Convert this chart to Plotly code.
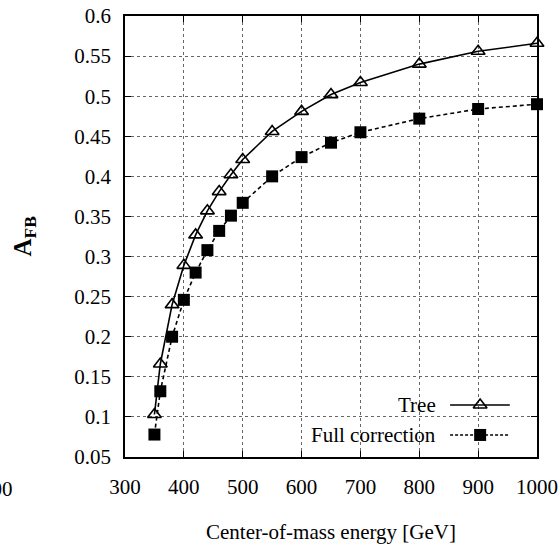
import plotly.graph_objects as go

# Centre-of-mass energies (GeV) and forward-backward asymmetry values
energy = [350, 360, 380, 400, 420, 440, 460, 480, 500, 550, 600, 650, 700, 800, 900, 1000]
afb_tree = [0.103, 0.166, 0.240, 0.289, 0.327, 0.357, 0.381, 0.402, 0.421, 0.456, 0.481,
            0.502, 0.517, 0.540, 0.556, 0.566]
afb_full = [0.078, 0.132, 0.200, 0.246, 0.280, 0.308, 0.332, 0.351, 0.367, 0.400, 0.424,
            0.442, 0.455, 0.472, 0.484, 0.490]

x_ticks = [300, 400, 500, 600, 700, 800, 900, 1000]
y_ticks = [0.05, 0.1, 0.15, 0.2, 0.25, 0.3, 0.35, 0.4, 0.45, 0.5, 0.55, 0.6]
y_tick_text = ["0.05", "0.1", "0.15", "0.2", "0.25", "0.3", "0.35", "0.4", "0.45",
               "0.5", "0.55", "0.6"]

series_names = ["Tree", "Full correction"]

FONT = "Liberation Serif, Times New Roman, serif"
FS = 21

fig = go.Figure()

fig.add_trace(go.Scatter(
    x=energy, y=afb_tree, mode="lines+markers", name=series_names[0],
    line=dict(color="black", width=1.6),
    marker=dict(symbol="triangle-up-open", size=12, color="black",
                line=dict(width=1.6, color="black")),
    showlegend=False, cliponaxis=False,
))
fig.add_trace(go.Scatter(
    x=energy, y=afb_full, mode="lines+markers", name=series_names[1],
    line=dict(color="black", width=1.6, dash="4px,3px"),
    marker=dict(symbol="square", size=12, color="black"),
    showlegend=False, cliponaxis=False,
))

# Key: samples drawn on an overlay axis spanning the plot area as 0..1
key_y = [0.118, 0.050]
key_x0, key_x1, key_xm = 0.789, 0.934, 0.862
fig.add_trace(go.Scatter(
    x=[key_x0, key_x1], y=[key_y[0], key_y[0]], mode="lines",
    line=dict(color="black", width=1.6), xaxis="x2", yaxis="y2",
    showlegend=False, hoverinfo="skip",
))
fig.add_trace(go.Scatter(
    x=[key_xm], y=[key_y[0]], mode="markers",
    marker=dict(symbol="triangle-up-open", size=12, color="black",
                line=dict(width=1.6, color="black")),
    xaxis="x2", yaxis="y2", showlegend=False, hoverinfo="skip",
))
fig.add_trace(go.Scatter(
    x=[key_x0, key_x1], y=[key_y[1], key_y[1]], mode="lines",
    line=dict(color="black", width=1.4, dash="3px,2px"), xaxis="x2", yaxis="y2",
    showlegend=False, hoverinfo="skip",
))
fig.add_trace(go.Scatter(
    x=[key_xm], y=[key_y[1]], mode="markers",
    marker=dict(symbol="square", size=12, color="black"),
    xaxis="x2", yaxis="y2", showlegend=False, hoverinfo="skip",
))

for name, yy in zip(series_names, key_y):
    fig.add_annotation(x=0.757, y=yy, xref="paper", yref="paper", text=name,
                       showarrow=False, xanchor="right", yanchor="middle",
                       borderpad=0,
                       font=dict(family=FONT, size=FS, color="black"))

# white key box over the grid
fig.add_shape(type="rect", xref="paper", yref="paper", x0=0.296, x1=0.966,
              y0=0.0, y1=0.156, fillcolor="white", line=dict(width=0),
              layer="between")

axis_common = dict(
    showline=True, linecolor="black", linewidth=1.5, mirror="ticks",
    ticks="inside", ticklen=6, tickwidth=1, tickcolor="black",
    showgrid=True, gridcolor="#666666", gridwidth=1, griddash="dot",
    zeroline=False, automargin=False,
    tickfont=dict(family=FONT, size=FS, color="black"),
)

fig.update_layout(
    width=559, height=551,
    margin=dict(l=125, r=22, t=16, b=94),
    paper_bgcolor="white", plot_bgcolor="white",
    font=dict(family=FONT, size=FS, color="black"),
    xaxis=dict(range=[300, 1000], tickvals=x_ticks, ticklabelstandoff=10,
               title=dict(text="Center-of-mass energy [GeV]", standoff=26,
                          font=dict(family=FONT, size=FS)),
               **axis_common),
    yaxis=dict(range=[0.05, 0.6], tickvals=y_ticks, ticktext=y_tick_text,
               ticklabelstandoff=8, **axis_common),
    xaxis2=dict(range=[0, 1], overlaying="x", visible=False, fixedrange=True),
    yaxis2=dict(range=[0, 1], overlaying="y", visible=False, fixedrange=True),
)

# axis title for the asymmetry
fig.add_annotation(x=-0.245, y=0.5, xref="paper", yref="paper",
                   text="<b>A</b><sub><b>FB</b></sub>", textangle=-90,
                   showarrow=False, xanchor="center", yanchor="middle",
                   font=dict(family=FONT, size=25, color="black"))

# stray clipped tick label at the far left edge
fig.add_annotation(x=-0.269, y=-0.073, xref="paper", yref="paper", text="200",
                   showarrow=False, xanchor="right", yanchor="middle",
                   borderpad=0,
                   font=dict(family=FONT, size=FS, color="black"))

fig.write_html("out.html")
